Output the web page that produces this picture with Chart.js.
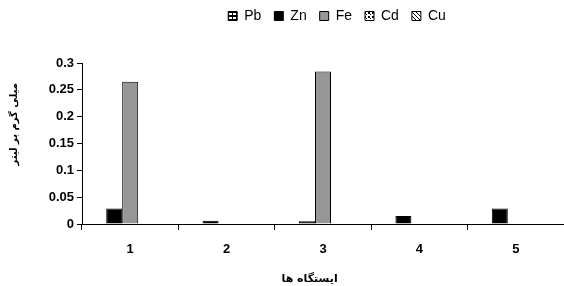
<!DOCTYPE html>
<html>
<head>
<meta charset="utf-8">
<script src="https://cdn.jsdelivr.net/npm/chart.js@4"></script>
<style>
  html, body { margin: 0; padding: 0; background: #fff; }
  #wrap { width: 564px; height: 286px; }
</style>
</head>
<body>
<div id="wrap"><canvas id="myChart"></canvas></div>
<script>
// stations 1..5
var stations = ["1", "2", "3", "4", "5"];
var pb = [0, 0, 0, 0, 0];
var zn = [0.029, 0.006, 0.005, 0.015, 0.029];
var fe = [0.265, 0, 0.284, 0, 0];
var cd = [0, 0, 0, 0, 0];
var cu = [0, 0, 0, 0, 0];
var yTicks = [0, 0.05, 0.1, 0.15, 0.2, 0.25, 0.3];

function makePattern(kind) {
    var c = document.createElement('canvas');
    c.width = 4; c.height = 4;
    var g = c.getContext('2d');
    g.fillStyle = '#fff';
    g.fillRect(0, 0, 4, 4);
    g.fillStyle = '#000';
    if (kind == 'pb') {
        g.fillRect(0, 0, 4, 1);
        g.fillRect(0, 3, 4, 1);
        g.fillRect(0, 1, 1, 2);
    } else if (kind == 'cd') {
        g.fillRect(0, 0, 2, 2);
        g.fillRect(2, 2, 1, 1);
    } else {
        g.fillRect(0, 0, 1, 1);
        g.fillRect(1, 1, 1, 1);
        g.fillRect(2, 2, 1, 1);
        g.fillRect(3, 3, 1, 1);
    }
    return document.getElementById('myChart').getContext('2d').createPattern(c, 'repeat');
}

// move the legend up and a bit to the right, like in the original
var shiftLegend = {
    id: 'shiftLegend',
    afterLayout: function(chart) {
        chart.legend.left = 110;
        chart.legend.top -= 30;
    }
};

var pad = '\u00A0';

var myChart = new Chart(document.getElementById('myChart').getContext('2d'), {
    type: 'bar',
    data: {
        labels: stations,
        datasets: [
            { label: "Pb", data: pb, backgroundColor: makePattern('pb'), borderColor: "#000", borderWidth: 1 },
            { label: "Zn", data: zn, backgroundColor: "#000", borderColor: "#000", borderWidth: 1 },
            { label: "Fe", data: fe, backgroundColor: "#969696", borderColor: "#000", borderWidth: 1 },
            { label: "Cd", data: cd, backgroundColor: makePattern('cd'), borderColor: "#000", borderWidth: 1 },
            { label: "Cu", data: cu, backgroundColor: makePattern('cu'), borderColor: "#000", borderWidth: 1 }
        ]
    },
    options: {
        responsive: true,
        maintainAspectRatio: false,
        animation: false,
        layout: { padding: { top: 26, right: 0, bottom: 0, left: 0 } },
        datasets: { bar: { categoryPercentage: 0.83, barPercentage: 1 } },
        plugins: {
            legend: {
                position: 'top',
                labels: {
                    boxWidth: 9,
                    boxHeight: 9,
                    padding: 13,
                    color: '#000',
                    font: { family: 'Liberation Sans', size: 14 }
                }
            },
            tooltip: { enabled: false }
        },
        scales: {
            x: {
                grid: { offset: true, drawOnChartArea: false, tickLength: 6, color: '#000' },
                border: { color: '#000', width: 1 },
                ticks: { color: '#000', font: { family: 'Liberation Sans', size: 13, weight: 'bold' }, padding: 12 },
                title: {
                    display: true,
                    text: 'ایستگاه ها' + pad.repeat(7),
                    color: '#000',
                    font: { family: 'DejaVu Sans', size: 11, weight: 'bold' },
                    padding: { top: 4, bottom: 0 }
                },
                afterFit: function(scale) { scale.height = 62; }
            },
            y: {
                min: 0,
                max: 0.3,
                afterBuildTicks: function(scale) {
                    scale.ticks = yTicks.map(function(v) { return { value: v }; });
                },
                grid: { drawOnChartArea: false, tickLength: 5, color: '#000' },
                border: { color: '#000', width: 1 },
                ticks: {
                    color: '#000',
                    font: { family: 'Liberation Sans', size: 13, weight: 'bold' },
                    padding: 3,
                    callback: function(v) { return String(Math.round(v * 100) / 100); }
                },
                title: {
                    display: true,
                    text: pad.repeat(11) + 'میلی گرم بر لیتر',
                    color: '#000',
                    font: { family: 'DejaVu Sans', size: 10, weight: 'bold' },
                    padding: { top: 8, bottom: 6 }
                },
                afterFit: function(scale) { scale.width = 82; }
            }
        }
    },
    plugins: [shiftLegend]
});
</script>
</body>
</html>
